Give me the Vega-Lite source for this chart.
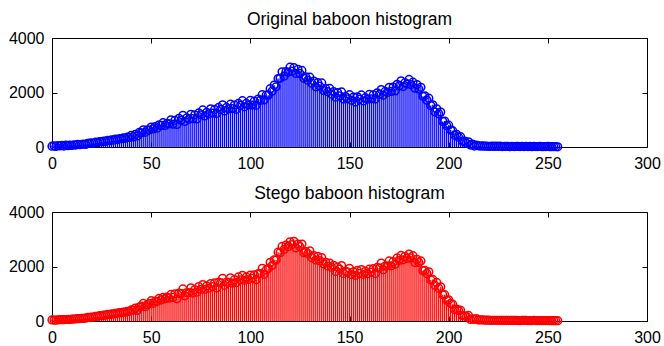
{
  "$schema": "https://vega.github.io/schema/vega-lite/v6.json",
  "padding": {"left": 7, "top": 10, "right": 5, "bottom": 5},
  "background": "white",
  "spacing": 65,
  "bounds": "flush",
  "config": {
    "view": {"stroke": "black", "strokeWidth": 1},
    "font": "Liberation Sans",
    "title": {"font": "Liberation Sans", "fontSize": 17.5, "fontWeight": "normal", "color": "black", "offset": 2, "anchor": "middle"},
    "axis": {"labelFont": "Liberation Sans", "labelFontSize": 16, "labelColor": "black", "domainColor": "black", "tickColor": "black", "grid": false, "title": null, "labelFlush": false, "labelOverlap": false, "format": "d"}
  },
  "datasets": {
    "h": [
{"g":0,"o":30,"s":40},{"g":1,"o":45,"s":35},{"g":2,"o":20,"s":30},{"g":3,"o":55,"s":45},{"g":4,"o":40,"s":50},{"g":5,"o":60,"s":50},{"g":6,"o":35,"s":50},{"g":7,"o":70,"s":55},{"g":8,"o":50,"s":60},{"g":9,"o":65,"s":55},
{"g":10,"o":55,"s":65},{"g":11,"o":80,"s":70},{"g":12,"o":70,"s":80},{"g":13,"o":95,"s":85},{"g":14,"o":85,"s":90},{"g":15,"o":100,"s":95},{"g":16,"o":110,"s":100},{"g":17,"o":95,"s":105},{"g":18,"o":130,"s":135},{"g":19,"o":140,"s":135},
{"g":20,"o":150,"s":145},{"g":21,"o":135,"s":140},{"g":22,"o":175,"s":170},{"g":23,"o":165,"s":170},{"g":24,"o":200,"s":195},{"g":25,"o":190,"s":195},{"g":26,"o":220,"s":215},{"g":27,"o":210,"s":215},{"g":28,"o":245,"s":240},{"g":29,"o":230,"s":235},
{"g":30,"o":265,"s":260},{"g":31,"o":250,"s":255},{"g":32,"o":290,"s":280},{"g":33,"o":275,"s":285},{"g":34,"o":310,"s":305},{"g":35,"o":300,"s":305},{"g":36,"o":335,"s":330},{"g":37,"o":320,"s":325},{"g":38,"o":360,"s":355},{"g":39,"o":350,"s":355},
{"g":40,"o":430,"s":405},{"g":41,"o":370,"s":395},{"g":42,"o":460,"s":475},{"g":43,"o":405,"s":390},{"g":44,"o":535,"s":510},{"g":45,"o":520,"s":545},{"g":46,"o":630,"s":645},{"g":47,"o":540,"s":525},{"g":48,"o":625,"s":600},{"g":49,"o":620,"s":645},
{"g":50,"o":730,"s":745},{"g":51,"o":665,"s":650},{"g":52,"o":750,"s":725},{"g":53,"o":690,"s":715},{"g":54,"o":815,"s":830},{"g":55,"o":790,"s":775},{"g":56,"o":890,"s":865},{"g":57,"o":790,"s":815},{"g":58,"o":865,"s":880},{"g":59,"o":850,"s":835},
{"g":60,"o":1000,"s":975},{"g":61,"o":840,"s":865},{"g":62,"o":980,"s":995},{"g":63,"o":830,"s":815},{"g":64,"o":1050,"s":1025},{"g":65,"o":980,"s":1005},{"g":66,"o":1160,"s":1175},{"g":67,"o":940,"s":925},{"g":68,"o":1070,"s":1045},{"g":69,"o":1020,"s":1045},
{"g":70,"o":1200,"s":1215},{"g":71,"o":1040,"s":1025},{"g":72,"o":1180,"s":1155},{"g":73,"o":1030,"s":1055},{"g":74,"o":1250,"s":1265},{"g":75,"o":1180,"s":1165},{"g":76,"o":1360,"s":1335},{"g":77,"o":1140,"s":1165},{"g":78,"o":1270,"s":1285},{"g":79,"o":1220,"s":1205},
{"g":80,"o":1400,"s":1375},{"g":81,"o":1240,"s":1265},{"g":82,"o":1380,"s":1395},{"g":83,"o":1230,"s":1215},{"g":84,"o":1450,"s":1425},{"g":85,"o":1375,"s":1400},{"g":86,"o":1550,"s":1565},{"g":87,"o":1325,"s":1310},{"g":88,"o":1450,"s":1425},{"g":89,"o":1395,"s":1420},
{"g":90,"o":1570,"s":1585},{"g":91,"o":1405,"s":1390},{"g":92,"o":1540,"s":1515},{"g":93,"o":1385,"s":1410},{"g":94,"o":1600,"s":1615},{"g":95,"o":1525,"s":1510},{"g":96,"o":1700,"s":1675},{"g":97,"o":1475,"s":1500},{"g":98,"o":1600,"s":1615},{"g":99,"o":1540,"s":1525},
{"g":100,"o":1710,"s":1685},{"g":101,"o":1540,"s":1565},{"g":102,"o":1680,"s":1695},{"g":103,"o":1530,"s":1515},{"g":104,"o":1760,"s":1735},{"g":105,"o":1710,"s":1735},{"g":106,"o":1920,"s":1935},{"g":107,"o":1730,"s":1715},{"g":108,"o":1900,"s":1875},{"g":109,"o":1900,"s":1925},
{"g":110,"o":2140,"s":2155},{"g":111,"o":2050,"s":2035},{"g":112,"o":2270,"s":2245},{"g":113,"o":2210,"s":2235},{"g":114,"o":2510,"s":2525},{"g":115,"o":2520,"s":2505},{"g":116,"o":2760,"s":2735},{"g":117,"o":2600,"s":2625},{"g":118,"o":2770,"s":2785},{"g":119,"o":2740,"s":2725},
{"g":120,"o":2930,"s":2905},{"g":121,"o":2780,"s":2805},{"g":122,"o":2910,"s":2925},{"g":123,"o":2700,"s":2685},{"g":124,"o":2850,"s":2825},{"g":125,"o":2700,"s":2725},{"g":126,"o":2810,"s":2825},{"g":127,"o":2520,"s":2505},{"g":128,"o":2570,"s":2545},{"g":129,"o":2450,"s":2475},
{"g":130,"o":2560,"s":2575},{"g":131,"o":2340,"s":2325},{"g":132,"o":2420,"s":2395},{"g":133,"o":2210,"s":2235},{"g":134,"o":2360,"s":2375},{"g":135,"o":2230,"s":2215},{"g":136,"o":2350,"s":2325},{"g":137,"o":2070,"s":2095},{"g":138,"o":2140,"s":2155},{"g":139,"o":2030,"s":2015},
{"g":140,"o":2150,"s":2125},{"g":141,"o":1940,"s":1965},{"g":142,"o":2030,"s":2045},{"g":143,"o":1830,"s":1815},{"g":144,"o":2000,"s":1975},{"g":145,"o":1880,"s":1905},{"g":146,"o":2020,"s":2035},{"g":147,"o":1760,"s":1745},{"g":148,"o":1850,"s":1825},{"g":149,"o":1770,"s":1795},
{"g":150,"o":1920,"s":1935},{"g":151,"o":1720,"s":1705},{"g":152,"o":1830,"s":1805},{"g":153,"o":1650,"s":1675},{"g":154,"o":1840,"s":1855},{"g":155,"o":1760,"s":1745},{"g":156,"o":1910,"s":1885},{"g":157,"o":1690,"s":1715},{"g":158,"o":1810,"s":1825},{"g":159,"o":1750,"s":1735},
{"g":160,"o":1930,"s":1905},{"g":161,"o":1770,"s":1795},{"g":162,"o":1910,"s":1925},{"g":163,"o":1760,"s":1745},{"g":164,"o":1990,"s":1965},{"g":165,"o":1920,"s":1945},{"g":166,"o":2110,"s":2125},{"g":167,"o":1900,"s":1885},{"g":168,"o":2040,"s":2015},{"g":169,"o":2000,"s":2025},
{"g":170,"o":2190,"s":2205},{"g":171,"o":2040,"s":2025},{"g":172,"o":2200,"s":2175},{"g":173,"o":2060,"s":2085},{"g":174,"o":2300,"s":2315},{"g":175,"o":2240,"s":2225},{"g":176,"o":2430,"s":2405},{"g":177,"o":2220,"s":2245},{"g":178,"o":2360,"s":2375},{"g":179,"o":2310,"s":2295},
{"g":180,"o":2480,"s":2455},{"g":181,"o":2290,"s":2315},{"g":182,"o":2380,"s":2395},{"g":183,"o":2160,"s":2145},{"g":184,"o":2290,"s":2265},{"g":185,"o":2120,"s":2145},{"g":186,"o":2190,"s":2205},{"g":187,"o":1860,"s":1845},{"g":188,"o":1880,"s":1855},{"g":189,"o":1720,"s":1745},
{"g":190,"o":1790,"s":1805},{"g":191,"o":1520,"s":1505},{"g":192,"o":1550,"s":1525},{"g":193,"o":1290,"s":1315},{"g":194,"o":1400,"s":1415},{"g":195,"o":1220,"s":1205},{"g":196,"o":1280,"s":1255},{"g":197,"o":940,"s":965},{"g":198,"o":950,"s":965},{"g":199,"o":780,"s":765},
{"g":200,"o":800,"s":775},{"g":201,"o":620,"s":645},{"g":202,"o":600,"s":615},{"g":203,"o":435,"s":420},{"g":204,"o":465,"s":440},{"g":205,"o":360,"s":385},{"g":206,"o":380,"s":395},{"g":207,"o":210,"s":195},{"g":208,"o":215,"s":190},{"g":209,"o":140,"s":165},
{"g":210,"o":190,"s":205},{"g":211,"o":70,"s":55},{"g":212,"o":105,"s":80},{"g":213,"o":35,"s":60},{"g":214,"o":70,"s":85},{"g":215,"o":45,"s":40},{"g":216,"o":35,"s":38},{"g":217,"o":40,"s":37},{"g":218,"o":30,"s":33},{"g":219,"o":35,"s":32},
{"g":220,"o":25,"s":28},{"g":221,"o":25,"s":27},{"g":222,"o":30,"s":26},{"g":223,"o":20,"s":24},{"g":224,"o":28,"s":25},{"g":225,"o":22,"s":25},{"g":226,"o":30,"s":24},{"g":227,"o":18,"s":22},{"g":228,"o":25,"s":22},{"g":229,"o":20,"s":23},
{"g":230,"o":27,"s":21},{"g":231,"o":15,"s":19},{"g":232,"o":22,"s":20},{"g":233,"o":18,"s":21},{"g":234,"o":25,"s":22},{"g":235,"o":20,"s":18},{"g":236,"o":15,"s":18},{"g":237,"o":22,"s":20},{"g":238,"o":18,"s":21},{"g":239,"o":24,"s":20},
{"g":240,"o":16,"s":18},{"g":241,"o":20,"s":17},{"g":242,"o":14,"s":18},{"g":243,"o":22,"s":19},{"g":244,"o":18,"s":16},{"g":245,"o":15,"s":17},{"g":246,"o":20,"s":16},{"g":247,"o":12,"s":15},{"g":248,"o":18,"s":16},{"g":249,"o":15,"s":17},
{"g":250,"o":20,"s":16},{"g":251,"o":14,"s":12},{"g":252,"o":10,"s":13},{"g":253,"o":16,"s":14},{"g":254,"o":12,"s":10},{"g":255,"o":8,"s":10}
    ]
  },
  "vconcat": [
    {
      "width": 595,
      "height": 109,
      "title": "Original baboon histogram",
      "data": {"name": "h"},
      "layer": [
        {
          "mark": {"type": "rule", "color": "#0000ff", "strokeWidth": 1.3},
          "encoding": {
            "x": {"field": "g", "type": "quantitative", "scale": {"domain": [0, 300], "nice": false}, "axis": {"orient": "bottom", "values": [0, 50, 100, 150, 200, 250, 300], "tickSize": -5, "labelPadding": 13, "domain": false}},
            "y": {"field": "o", "type": "quantitative", "scale": {"domain": [0, 4000], "nice": false}, "axis": {"orient": "left", "values": [0, 2000, 4000], "tickSize": -5, "labelPadding": 13, "domain": false}},
            "y2": {"datum": 0}
          }
        },
        {
          "mark": {"type": "point", "shape": "circle", "filled": false, "color": "#0000ff", "size": 60, "strokeWidth": 1.5, "opacity": 1},
          "encoding": {
            "x": {"field": "g", "type": "quantitative", "scale": {"domain": [0, 300], "nice": false}, "axis": {"orient": "top", "values": [0, 50, 100, 150, 200, 250, 300], "tickSize": -5, "labels": false, "domain": false}},
            "y": {"field": "o", "type": "quantitative", "scale": {"domain": [0, 4000], "nice": false}, "axis": {"orient": "right", "values": [0, 2000, 4000], "tickSize": -5, "labels": false, "domain": false}}
          }
        }
      ],
      "resolve": {"axis": {"x": "independent", "y": "independent"}}
    },
    {
      "width": 595,
      "height": 109,
      "title": "Stego baboon histogram",
      "data": {"name": "h"},
      "layer": [
        {
          "mark": {"type": "rule", "color": "#ff0000", "strokeWidth": 1.3},
          "encoding": {
            "x": {"field": "g", "type": "quantitative", "scale": {"domain": [0, 300], "nice": false}, "axis": {"orient": "bottom", "values": [0, 50, 100, 150, 200, 250, 300], "tickSize": -5, "labelPadding": 13, "domain": false}},
            "y": {"field": "s", "type": "quantitative", "scale": {"domain": [0, 4000], "nice": false}, "axis": {"orient": "left", "values": [0, 2000, 4000], "tickSize": -5, "labelPadding": 13, "domain": false}},
            "y2": {"datum": 0}
          }
        },
        {
          "mark": {"type": "point", "shape": "circle", "filled": false, "color": "#ff0000", "size": 60, "strokeWidth": 1.5, "opacity": 1},
          "encoding": {
            "x": {"field": "g", "type": "quantitative", "scale": {"domain": [0, 300], "nice": false}, "axis": {"orient": "top", "values": [0, 50, 100, 150, 200, 250, 300], "tickSize": -5, "labels": false, "domain": false}},
            "y": {"field": "s", "type": "quantitative", "scale": {"domain": [0, 4000], "nice": false}, "axis": {"orient": "right", "values": [0, 2000, 4000], "tickSize": -5, "labels": false, "domain": false}}
          }
        }
      ],
      "resolve": {"axis": {"x": "independent", "y": "independent"}}
    }
  ]
}
